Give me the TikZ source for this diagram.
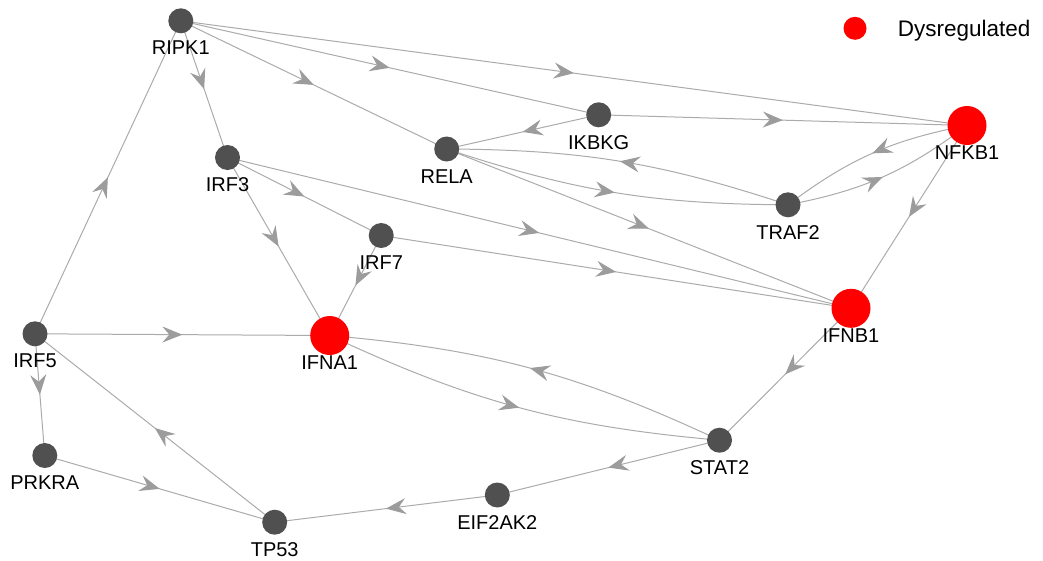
\documentclass[tikz,border=0pt]{standalone}
\usepackage{fontspec}
\setmainfont{Liberation Sans}
\usetikzlibrary{arrows.meta,decorations.markings}
\definecolor{genegray}{HTML}{505050}
\definecolor{linkgray}{HTML}{ABABAB}
\definecolor{tipgray}{HTML}{9C9C9C}
\pgfdeclarelayer{links}
\pgfsetlayers{links,main}
\def\midtip{\arrow{Stealth[length=20pt,width=16pt,inset=7pt,color=tipgray]}}

\begin{document}
\begin{tikzpicture}[x=1pt, y=-1pt,
	gene/.style={circle, fill=genegray, minimum size=25pt, inner sep=0pt, label={[yshift=-7.5pt]below:#1}},
	dysreg/.style={circle, fill=red, minimum size=39pt, inner sep=0pt, label={[yshift=-0.5pt]below:#1}},
	every label/.style={font=\fontsize{20}{24}\selectfont, inner sep=0pt},
	link/.style={draw=linkgray, line width=1pt, postaction={decorate},
		decoration={markings, mark=at position 0.5 with {\midtip}}}]
		%%%%% START %%%%%
		
		\useasboundingbox (0, 0) rectangle (1043, 560);
		
		\node[gene=RIPK1] (ripk1) at (180.8, 20.8) {};
		\node[gene=IRF3] (irf3) at (227.5, 157.5) {};
		\node[gene=RELA] (rela) at (446.7, 149) {};
		\node[gene=IKBKG] (ikbkg) at (598.7, 114.8) {};
		\node[dysreg=NFKB1] (nfkb1) at (967, 125.5) {};
		\node[gene=TRAF2] (traf2) at (788, 204.8) {};
		\node[gene=IRF7] (irf7) at (381.2, 235.5) {};
		\node[dysreg=IFNB1] (ifnb1) at (851, 308.3) {};
		\node[gene=IRF5] (irf5) at (35, 333.8) {};
		\node[dysreg=IFNA1] (ifna1) at (329.7, 335.5) {};
		\node[gene=PRKRA] (prkra) at (44.8, 455.5) {};
		\node[gene=TP53] (tp53) at (274.7, 522.2) {};
		\node[gene=EIF2AK2] (eif2ak2) at (497.3, 495) {};
		\node[gene=STAT2] (stat2) at (719.5, 440.2) {};
		
		\node[circle, fill=red, minimum size=23pt, inner sep=0pt] (legdot) at (855, 28.3) {};
		\node[anchor=base west, inner sep=0pt, font=\fontsize{22.5}{27}\selectfont] (legtext) at (897.7, 36.7) {Dysregulated};
		
		\begin{pgfonlayer}{links}
		\draw[link] (ripk1.center) -- (irf3.center);
		\draw[link] (ripk1.center) -- (rela.center);
		\draw[link] (ripk1.center) -- (ikbkg.center);
		\draw[link] (ripk1.center) -- (nfkb1.center);
		\draw[link] (ikbkg.center) -- (rela.center);
		\draw[link] (ikbkg.center) -- (nfkb1.center);
		\draw[link] (rela.center) to[bend right=9] (traf2.center);
		\draw[link] (traf2.center) to[bend right=9] (rela.center);
		\draw[link] (rela.center) -- (ifnb1.center);
		\draw[link] (traf2.center) to[bend right=13] (nfkb1.center);
		\draw[link] (nfkb1.center) to[bend right=13] (traf2.center);
		\draw[link] (nfkb1.center) -- (ifnb1.center);
		\draw[link] (irf3.center) -- (irf7.center);
		\draw[link] (irf3.center) -- (ifnb1.center);
		\draw[link] (irf3.center) -- (ifna1.center);
		\draw[link] (irf7.center) -- (ifna1.center);
		\draw[link] (irf7.center) -- (ifnb1.center);
		\draw[link] (irf5.center) -- (ripk1.center);
		\draw[link] (irf5.center) -- (ifna1.center);
		\draw[link] (irf5.center) -- (prkra.center);
		\draw[link] (tp53.center) -- (irf5.center);
		\draw[link] (prkra.center) -- (tp53.center);
		\draw[link] (eif2ak2.center) -- (tp53.center);
		\draw[link] (stat2.center) -- (eif2ak2.center);
		\draw[link] (ifnb1.center) -- (stat2.center);
		\draw[link] (ifna1.center) to[bend right=10] (stat2.center);
		\draw[link] (stat2.center) to[bend right=10] (ifna1.center);
		\end{pgfonlayer}
		
		%%%%% END %%%%%
	\end{tikzpicture}
\end{document}
